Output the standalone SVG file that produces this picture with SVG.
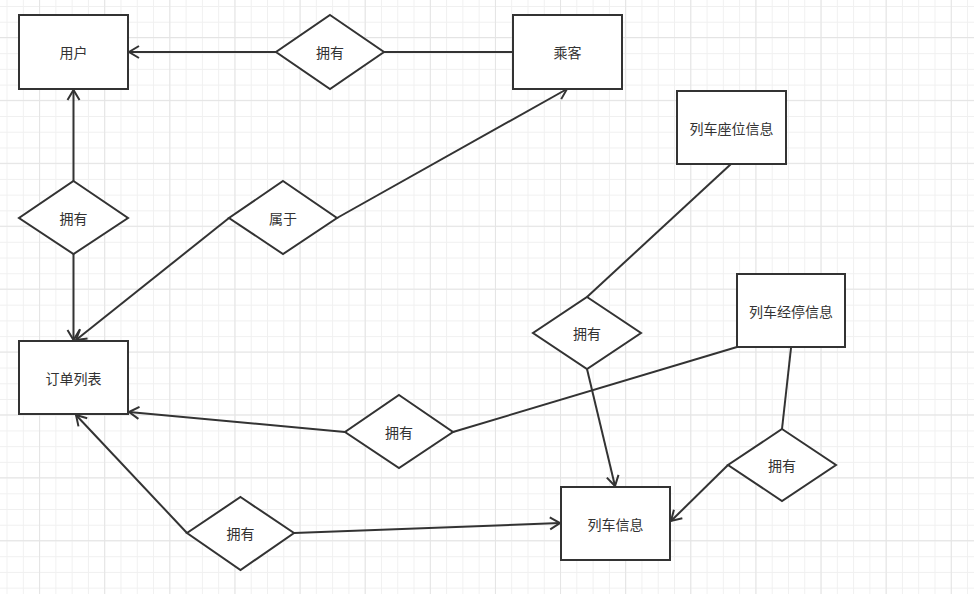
<svg xmlns="http://www.w3.org/2000/svg" width="974" height="594" viewBox="0 0 974 594">
<defs>
<pattern id="gx" x="39.1" y="0" width="16.28" height="594" patternUnits="userSpaceOnUse">
<line x1="0.5" y1="0" x2="0.5" y2="594" stroke="#f0f0f0" stroke-width="1"/>
</pattern>
<pattern id="gy" x="0" y="6" width="974" height="15.72" patternUnits="userSpaceOnUse">
<line x1="0" y1="0.5" x2="974" y2="0.5" stroke="#f0f0f0" stroke-width="1"/>
</pattern>
<pattern id="gX" x="39.1" y="0" width="65.12" height="594" patternUnits="userSpaceOnUse">
<line x1="0.5" y1="0" x2="0.5" y2="594" stroke="#e4e4e4" stroke-width="1"/>
</pattern>
<pattern id="gY" x="0" y="37" width="974" height="62.9" patternUnits="userSpaceOnUse">
<line x1="0" y1="0.5" x2="974" y2="0.5" stroke="#e4e4e4" stroke-width="1"/>
</pattern>
<marker id="arr" viewBox="-12 -8 14 16" refX="0" refY="0" markerWidth="14" markerHeight="16" markerUnits="userSpaceOnUse" orient="auto">
<path d="M-10,-6 L0,0 L-10,6" fill="none" stroke="#333" stroke-width="2"/>
</marker>
</defs>
<style>
.box{fill:#fff;stroke:#333;stroke-width:2}
.dia{fill:#fff;stroke:#333;stroke-width:2}
.lbl{font-family:"Noto Sans CJK SC","Noto Sans",sans-serif;font-size:14px;fill:#333;text-anchor:middle;dominant-baseline:central}
.c{fill:none;stroke:#333;stroke-width:2}
.a{marker-end:url(#arr)}
</style>
<rect width="974" height="594" fill="#fff"/>
<rect width="974" height="594" fill="url(#gx)"/>
<rect width="974" height="594" fill="url(#gy)"/>
<rect width="974" height="594" fill="url(#gX)"/>
<rect width="974" height="594" fill="url(#gY)"/>
<g id="connectors">
<line class="c a" x1="276" y1="52" x2="129" y2="52"/>
<line class="c" x1="384" y1="52" x2="513" y2="52"/>
<line class="c a" x1="73.5" y1="181" x2="73.5" y2="90"/>
<line class="c a" x1="73.5" y1="254" x2="73.5" y2="340"/>
<line class="c a" x1="229" y1="218" x2="76" y2="340"/>
<line class="c a" x1="337" y1="218" x2="567" y2="89"/>
<line class="c" x1="731" y1="164" x2="587" y2="297"/>
<line class="c a" x1="587" y1="369" x2="615" y2="486"/>
<line class="c" x1="791" y1="348" x2="782" y2="429"/>
<line class="c a" x1="728" y1="465" x2="671" y2="521"/>
<line class="c" x1="737" y1="347" x2="453" y2="432"/>
<line class="c a" x1="345" y1="432" x2="129" y2="412"/>
<line class="c a" x1="187" y1="533" x2="76" y2="415"/>
<line class="c a" x1="294" y1="533" x2="560" y2="523"/>
</g>
<g id="n-yonghu"><rect class="box" x="19" y="15" width="109" height="74"/><text class="lbl" x="73.5" y="52">用户</text></g>
<g id="n-chengke"><rect class="box" x="513" y="15" width="109" height="74"/><text class="lbl" x="567.5" y="52">乘客</text></g>
<g id="n-dingdan"><rect class="box" x="19" y="341" width="109" height="73"/><text class="lbl" x="73.5" y="378">订单列表</text></g>
<g id="n-zuowei"><rect class="box" x="677" y="91" width="109" height="73"/><text class="lbl" x="731.5" y="128">列车座位信息</text></g>
<g id="n-jingting"><rect class="box" x="737" y="274" width="108" height="73"/><text class="lbl" x="791" y="311">列车经停信息</text></g>
<g id="n-lieche"><rect class="box" x="561" y="487" width="109" height="73"/><text class="lbl" x="615.5" y="524">列车信息</text></g>
<g id="d-top"><polygon class="dia" points="330,15 384,52 330,89 276,52"/><text class="lbl" x="330" y="52">拥有</text></g>
<g id="d-left"><polygon class="dia" points="73.5,181 128,218 73.5,254 19,218"/><text class="lbl" x="73.5" y="218">拥有</text></g>
<g id="d-shuyu"><polygon class="dia" points="283,181 337,218 283,254 229,218"/><text class="lbl" x="283" y="218">属于</text></g>
<g id="d-mid"><polygon class="dia" points="587,297 641,333 587,369 533,333"/><text class="lbl" x="587" y="333">拥有</text></g>
<g id="d-right"><polygon class="dia" points="782,429 836,465 782,501 728,465"/><text class="lbl" x="782" y="465">拥有</text></g>
<g id="d-center"><polygon class="dia" points="399,395 453,432 399,468 345,432"/><text class="lbl" x="399" y="432">拥有</text></g>
<g id="d-bottom"><polygon class="dia" points="240.5,497 294,533 240.5,570 187,533"/><text class="lbl" x="240.5" y="533">拥有</text></g>
</svg>
